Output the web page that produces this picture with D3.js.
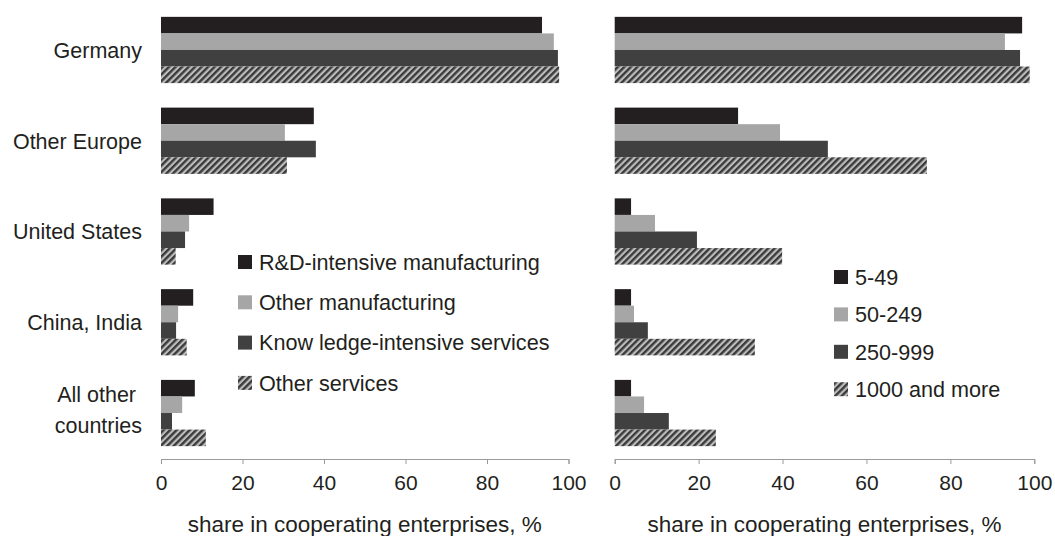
<!DOCTYPE html>
<html>
<head>
<meta charset="utf-8">
<script src="https://cdn.jsdelivr.net/npm/d3@7"></script>
<style>
  html, body { margin: 0; padding: 0; background: #fff; }
  svg { display: block; font-family: "Liberation Sans", Arial, sans-serif; }
</style>
</head>
<body>
<svg id="chart" width="1055" height="536"></svg>
<script>
// ---------- data ----------
const categories = ["Germany", "Other Europe", "United States", "China, India", "All other countries"];
const sectorNames = ["R&D-intensive manufacturing", "Other manufacturing", "Know ledge-intensive services", "Other services"];
const rdManufacturing   = [93.5, 37.5, 12.9, 7.9, 8.3];
const otherManufacturing = [96.4, 30.4, 6.9, 4.2, 5.2];
const knowledgeServices = [97.4, 38.0, 5.9, 3.7, 2.7];
const otherServices     = [97.7, 30.9, 3.6, 6.3, 11.0];

const sizeNames = ["5-49", "50-249", "250-999", "1000 and more"];
const size5to49     = [97.1, 29.4, 3.9, 3.9, 3.9];
const size50to249   = [93.0, 39.4, 9.6, 4.6, 7.0];
const size250to999  = [96.6, 50.8, 19.6, 7.9, 12.9];
const size1000plus  = [98.9, 74.4, 39.9, 33.4, 24.1];

const xTicks = [0, 20, 40, 60, 80, 100];
const axisTitle = "share in cooperating enterprises, %";

// ---------- setup ----------
const svg = d3.select("#chart");
const fills = ["#231f20", "#a6a6a6", "#404040", "url(#hatch)"];
const textColor = "#231f20";

const defs = svg.append("defs");
const pat = defs.append("pattern")
  .attr("id", "hatch")
  .attr("patternUnits", "userSpaceOnUse")
  .attr("width", 4.6).attr("height", 4.6)
  .attr("patternTransform", "rotate(45)");
pat.append("rect").attr("width", 4.6).attr("height", 4.6).attr("fill", "#bdbdbd");
pat.append("rect").attr("width", 2.4).attr("height", 4.6).attr("fill", "#3a3a3a");

const y = d3.scaleBand().domain(categories).range([4.6, 458.4])
  .paddingInner(0.27).paddingOuter(0.135);
const axisY = 459;

function panel(x0, x1, seriesNames, seriesValues, legend) {
  const x = d3.scaleLinear().domain([0, 100]).range([x0, x1]);
  const inner = d3.scaleBand().domain(d3.range(seriesNames.length)).range([0, y.bandwidth()]);
  const g = svg.append("g");

  seriesValues.forEach((vals, si) => {
    g.selectAll(null).data(vals).enter().append("rect")
      .attr("x", x(0))
      .attr("y", (d, i) => y(categories[i]) + inner(si))
      .attr("width", d => x(d) - x(0))
      .attr("height", inner.bandwidth())
      .attr("fill", fills[si]);
  });

  const ax = svg.append("g").attr("transform", `translate(0,${axisY})`)
    .call(d3.axisBottom(x).tickValues(xTicks).tickSize(5).tickSizeOuter(5).tickPadding(11));
  ax.select(".domain").attr("stroke", "#9a9a9a").attr("stroke-width", 1);
  ax.selectAll(".tick line").attr("stroke", "#9a9a9a");
  ax.selectAll(".tick text").attr("fill", textColor)
    .attr("font-size", 21).attr("font-family", '"Liberation Sans", Arial, sans-serif');

  svg.append("text")
    .attr("x", (x0 + x1) / 2).attr("y", 532)
    .attr("text-anchor", "middle")
    .attr("font-size", 22.5).attr("fill", textColor)
    .text(axisTitle);

  const lg = svg.append("g");
  seriesNames.forEach((name, si) => {
    const cy = legend.y0 + si * legend.dy;
    lg.append("rect")
      .attr("x", legend.x).attr("y", cy - 7)
      .attr("width", 14).attr("height", 14)
      .attr("fill", fills[si]);
    lg.append("text")
      .attr("x", legend.x + 21).attr("y", cy).attr("dy", "0.36em")
      .attr("font-size", 21.6).attr("fill", textColor)
      .text(name);
  });
}

panel(161, 568.5, sectorNames,
  [rdManufacturing, otherManufacturing, knowledgeServices, otherServices],
  { x: 238, y0: 262, dy: 40.3 });
panel(614.7, 1034.3, sizeNames,
  [size5to49, size50to249, size250to999, size1000plus],
  { x: 834, y0: 277, dy: 37.4 });

// category labels
const cat = svg.append("g");
categories.forEach(c => {
  const cy = y(c) + y.bandwidth() / 2;
  if (c === "All other countries") {
    const t = cat.append("text").attr("text-anchor", "end").attr("font-size", 21.5).attr("fill", textColor);
    t.append("tspan").attr("x", 142).attr("y", cy - 11.5).text("All other\u00a0");
    t.append("tspan").attr("x", 142).attr("y", cy + 20).text("countries");
  } else {
    cat.append("text").attr("x", 142).attr("y", cy).attr("dy", "0.37em")
      .attr("text-anchor", "end").attr("font-size", 21.5).attr("fill", textColor)
      .text(c);
  }
});
</script>
</body>
</html>
